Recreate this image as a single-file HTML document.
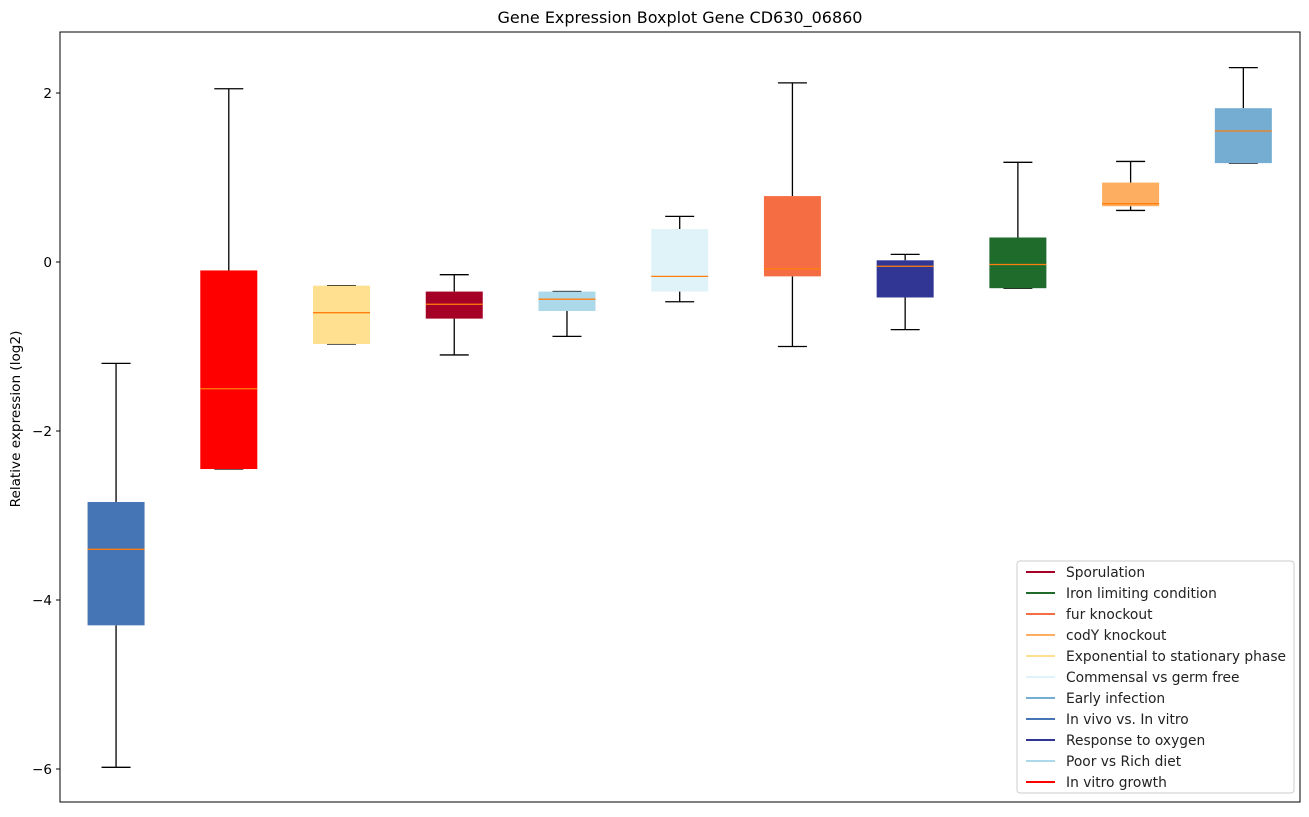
<!DOCTYPE html>
<html><head><meta charset="utf-8"><style>
body{margin:0;background:#fff;font-family:"Liberation Sans","DejaVu Sans",sans-serif}
</style></head><body>
<svg id="chart" width="1309" height="812" xmlns="http://www.w3.org/2000/svg" font-family="DejaVu Sans, Liberation Sans, sans-serif">
<text x="680" y="23" text-anchor="middle" font-size="16" fill="#000">Gene Expression Boxplot Gene CD630_06860</text>
<text x="20" y="419" text-anchor="middle" font-size="13.6" transform="rotate(-90 20 419)">Relative expression (log2)</text>
<g id="marks"></g>
<g id="axes"></g>
<g id="legend"></g>
</svg>
<script>
const categories=["In vivo vs. In vitro","In vitro growth","Exponential to stationary phase","Sporulation","Poor vs Rich diet","Commensal vs germ free","fur knockout","Response to oxygen","Iron limiting condition","codY knockout","Early infection"];
const colors=["#4575b4","#ff0000","#fee090","#a50026","#abd9e9","#e0f3f8","#f46d43","#313695","#1f6b2c","#fdae61","#74add1"];
const whiskerLow=[-5.98,-2.45,-0.97,-1.1,-0.88,-0.47,-1.0,-0.8,-0.31,0.61,1.17];
const q1=[-4.3,-2.45,-0.97,-0.67,-0.58,-0.35,-0.17,-0.42,-0.31,0.66,1.17];
const medians=[-3.4,-1.5,-0.6,-0.5,-0.44,-0.17,-0.08,-0.05,-0.03,0.69,1.55];
const q3=[-2.84,-0.1,-0.28,-0.35,-0.35,0.39,0.78,0.02,0.29,0.94,1.82];
const whiskerHigh=[-1.2,2.05,-0.28,-0.15,-0.35,0.54,2.12,0.09,1.18,1.19,2.3];
const yTicks=[2,0,-2,-4,-6];
const yTickLabels=["2","0","\u22122","\u22124","\u22126"];
const legendLabels=["Sporulation","Iron limiting condition","fur knockout","codY knockout","Exponential to stationary phase","Commensal vs germ free","Early infection","In vivo vs. In vitro","Response to oxygen","Poor vs Rich diet","In vitro growth"];
const legendColors=["#a50026","#1f6b2c","#f46d43","#fdae61","#fee090","#e0f3f8","#74add1","#4575b4","#313695","#abd9e9","#ff0000"];

const L=60,R=1300,T=32,B=802;
const y=v=>262-v*84.5;
const x=i=>L+(i+0.5)*(R-L)/11 - 0.3;
const NS="http://www.w3.org/2000/svg";
function mk(tag,attrs,parent){const e=document.createElementNS(NS,tag);for(const k in attrs)e.setAttribute(k,attrs[k]);parent.appendChild(e);return e;}
const marks=document.getElementById('marks');
const bw=57,cw=29;
categories.forEach((c,i)=>{
  const cx=x(i);
  const g=mk('g',{},marks);
  
  
  const line=(x1,y1,x2,y2,col)=>mk('line',{x1,y1,x2,y2,stroke:col,'stroke-width':1.3},g);
  line(cx,y(whiskerLow[i]),cx,y(q1[i]),'#000');
  line(cx,y(q3[i]),cx,y(whiskerHigh[i]),'#000');
  line(cx-cw/2,y(whiskerLow[i]),cx+cw/2,y(whiskerLow[i]),'#000');
  line(cx-cw/2,y(whiskerHigh[i]),cx+cw/2,y(whiskerHigh[i]),'#000');
  mk('rect',{x:cx-bw/2,y:y(q3[i]),width:bw,height:Math.max(1,y(q1[i])-y(q3[i])),fill:colors[i]},g);
  line(cx-bw/2,y(medians[i]),cx+bw/2,y(medians[i]),'#ff7f0e');
});
const axes=document.getElementById('axes');
mk('rect',{x:L,y:T,width:R-L,height:B-T,fill:'none',stroke:'#000','stroke-width':1},axes);
yTicks.forEach((v,i)=>{
  mk('line',{x1:L-4,y1:y(v),x2:L,y2:y(v),stroke:'#000'},axes);
  const t=mk('text',{x:L-8,y:y(v)+5,'text-anchor':'end','font-size':13.6},axes);
  t.textContent=yTickLabels[i];
  
  
});
const lg=document.getElementById('legend');


mk('rect',{x:1017,y:561,width:277,height:232,rx:3,fill:'#fff',stroke:'#ccc','fill-opacity':0.8},lg);
legendLabels.forEach((lab,i)=>{
  const yy=572+i*21;
  const g=mk('g',{},lg);
  
  
  mk('line',{x1:1026,y1:yy,x2:1055,y2:yy,stroke:legendColors[i],'stroke-width':2},g);
  const t=mk('text',{x:1066,y:yy+5,'font-size':13.8,fill:'#222'},g);
  t.textContent=lab;
});
</script>
</body></html>
